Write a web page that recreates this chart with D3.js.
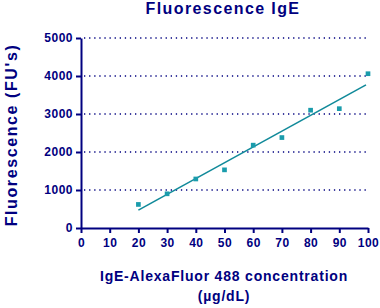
<!DOCTYPE html>
<html>
<head>
<meta charset="utf-8">
<script src="https://cdn.jsdelivr.net/npm/d3@7"></script>
<style>
  body { margin: 0; background: #fff; }
  text { font-family: Arial, "Liberation Sans", sans-serif; font-weight: bold; fill: #000080; }
</style>
</head>
<body>
<script>
// concentration (ug/dL) and measured fluorescence
const concentrations = [20, 30, 40, 50, 60, 70, 80, 90, 100];
const fluorescence = [620, 900, 1290, 1530, 2180, 2380, 3100, 3140, 4060];
const xTicks = [0, 10, 20, 30, 40, 50, 60, 70, 80, 90, 100];
const yTicks = [0, 1000, 2000, 3000, 4000, 5000];

const width = 380, height = 308;
const margin = {top: 38, right: 12, bottom: 80, left: 81};

const svg = d3.select("body").append("svg")
    .attr("width", width)
    .attr("height", height);

const x = d3.scaleLinear().domain([0, 100]).range([margin.left, width - margin.right]);
const y = d3.scaleLinear().domain([0, 5000]).range([height - margin.bottom, margin.top]);

// dotted grid lines
svg.append("g")
  .selectAll("line")
  .data(yTicks.slice(1))
  .enter().append("line")
    .attr("x1", x(0) + 3)
    .attr("x2", x(100))
    .attr("y1", d => y(d))
    .attr("y2", d => y(d))
    .attr("stroke", "#000080")
    .attr("stroke-width", 1.3)
    .attr("stroke-dasharray", "1.3,3.8");

// least squares fit line
const mx = d3.mean(concentrations), my = d3.mean(fluorescence);
const slope = d3.sum(concentrations, (c, i) => (c - mx) * (fluorescence[i] - my)) /
  d3.sum(concentrations, c => (c - mx) * (c - mx));
const fit = c => my + slope * (c - mx);
const xr = d3.extent(concentrations);
const xEnd = x.invert(x(xr[1]) - 2);

svg.append("line")
  .attr("x1", x(xr[0])).attr("y1", y(fit(xr[0])))
  .attr("x2", x(xEnd)).attr("y2", y(fit(xEnd)))
  .attr("stroke", "#118a9a")
  .attr("stroke-width", 1.6);

// points
svg.append("g")
  .selectAll("path")
  .data(concentrations)
  .enter().append("path")
    .attr("d", d3.symbol().type(d3.symbolSquare).size(22))
    .attr("transform", (c, i) => "translate(" + x(c) + "," + y(fluorescence[i]) + ")")
    .attr("fill", "#1a9cac");

// axes
const xAxis = svg.append("g")
    .attr("transform", "translate(0," + y(0) + ")")
    .call(d3.axisBottom(x).tickValues(xTicks).tickFormat(d3.format("d"))
      .tickSize(5).tickPadding(3).tickSizeOuter(0));
const yAxis = svg.append("g")
    .attr("transform", "translate(" + x(0) + ",0)")
    .call(d3.axisLeft(y).tickValues(yTicks).tickFormat(d3.format("d"))
      .tickSize(5).tickPadding(3).tickSizeOuter(0));

[xAxis, yAxis].forEach(a => {
  a.select(".domain").attr("stroke", "#000080").attr("stroke-width", 2);
  a.selectAll(".tick line").attr("stroke", "#000080").attr("stroke-width", 2);
  a.selectAll(".tick text")
    .attr("fill", "#000080")
    .style("font-size", "12px")
    .style("font-family", "Arial, 'Liberation Sans', sans-serif")
    .style("font-weight", "bold")
    .style("letter-spacing", "0.5px");
});
xAxis.selectAll(".tick text").attr("dy", "0.95em");

// title and axis labels
svg.append("text")
  .attr("x", 223).attr("y", 14)
  .attr("text-anchor", "middle")
  .style("font-size", "16px")
  .style("letter-spacing", "1.4px")
  .text("Fluorescence IgE");

svg.append("text")
  .attr("transform", "translate(17," + 135 + ") rotate(-90)")
  .attr("text-anchor", "middle")
  .style("font-size", "16px")
  .style("letter-spacing", "1.6px")
  .text("Fluorescence (FU's)");

svg.append("text")
  .attr("x", 224).attr("y", 281)
  .attr("text-anchor", "middle")
  .style("font-size", "14px")
  .style("letter-spacing", "0.8px")
  .text("IgE-AlexaFluor 488 concentration");

svg.append("text")
  .attr("x", 224).attr("y", 301)
  .attr("text-anchor", "middle")
  .style("font-size", "14px")
  .style("letter-spacing", "0.8px")
  .text("(µg/dL)");
</script>
</body>
</html>
